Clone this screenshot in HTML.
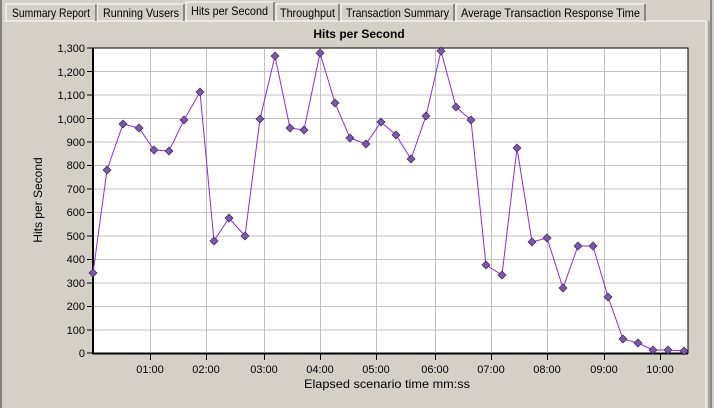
<!DOCTYPE html>
<html><head><style>
body{margin:0;width:714px;height:408px;background:#d4d0c8;font-family:"Liberation Sans",sans-serif;overflow:hidden;position:relative}
</style></head><body>
<svg width="714" height="408" xmlns="http://www.w3.org/2000/svg" style="position:absolute;left:0;top:0;font-family:'Liberation Sans',sans-serif">
<rect width="714" height="408" fill="#d4d0c8"/>
<line x1="1" y1="0" x2="1" y2="408" stroke="#808080" stroke-width="2"/>
<line x1="4" y1="21" x2="706" y2="21" stroke="#fff"/>
<line x1="706" y1="21" x2="706" y2="408" stroke="#fff"/>
<line x1="709" y1="21" x2="709" y2="408" stroke="#808080"/>
<line x1="711" y1="0" x2="711" y2="408" stroke="#404040"/>
<g font-size="12" fill="#000">
<rect x="6" y="4" width="90" height="17" fill="#d4d0c8" stroke="#fff"/><line x1="96" y1="4" x2="96" y2="21" stroke="#404040"/>
<text x="12" y="17" textLength="78" lengthAdjust="spacingAndGlyphs">Summary Report</text>
<rect x="97" y="4" width="87" height="17" fill="#d4d0c8" stroke="#fff"/><line x1="184" y1="4" x2="184" y2="21" stroke="#404040"/>
<text x="103" y="17" textLength="76" lengthAdjust="spacingAndGlyphs">Running Vusers</text>
<path d="M186 21 V2 H274" fill="none" stroke="#fff"/><line x1="274" y1="2" x2="274" y2="21" stroke="#404040"/>
<text x="191" y="15" textLength="77" lengthAdjust="spacingAndGlyphs">Hits per Second</text>
<rect x="276" y="4" width="63" height="17" fill="#d4d0c8" stroke="#fff"/><line x1="339" y1="4" x2="339" y2="21" stroke="#404040"/>
<text x="280" y="17" textLength="55" lengthAdjust="spacingAndGlyphs">Throughput</text>
<rect x="341" y="4" width="113" height="17" fill="#d4d0c8" stroke="#fff"/><line x1="454" y1="4" x2="454" y2="21" stroke="#404040"/>
<text x="346" y="17" textLength="103" lengthAdjust="spacingAndGlyphs">Transaction Summary</text>
<rect x="456" y="4" width="189" height="17" fill="#d4d0c8" stroke="#fff"/><line x1="645" y1="4" x2="645" y2="21" stroke="#404040"/>
<text x="461" y="17" textLength="179" lengthAdjust="spacingAndGlyphs">Average Transaction Response Time</text>
</g>
<text x="359" y="38" font-size="12" font-weight="bold" text-anchor="middle">Hits per Second</text>
<rect x="93" y="48" width="595" height="305" fill="#fff" stroke="#000"/>
<g stroke="#c0c0c0" stroke-width="1">
<line x1="94" x2="687" y1="71.5" y2="71.5"/><line x1="94" x2="687" y1="95" y2="95"/><line x1="94" x2="687" y1="118.5" y2="118.5"/><line x1="94" x2="687" y1="142" y2="142"/><line x1="94" x2="687" y1="165.5" y2="165.5"/><line x1="94" x2="687" y1="189" y2="189"/><line x1="94" x2="687" y1="212.5" y2="212.5"/><line x1="94" x2="687" y1="236" y2="236"/><line x1="94" x2="687" y1="259.5" y2="259.5"/><line x1="94" x2="687" y1="283" y2="283"/><line x1="94" x2="687" y1="306.5" y2="306.5"/><line x1="94" x2="687" y1="330" y2="330"/>
<line y1="49" y2="352" x1="150.5" x2="150.5"/><line y1="49" y2="352" x1="206.5" x2="206.5"/><line y1="49" y2="352" x1="264.5" x2="264.5"/><line y1="49" y2="352" x1="320.5" x2="320.5"/><line y1="49" y2="352" x1="376.5" x2="376.5"/><line y1="49" y2="352" x1="435.5" x2="435.5"/><line y1="49" y2="352" x1="491.5" x2="491.5"/><line y1="49" y2="352" x1="547.5" x2="547.5"/><line y1="49" y2="352" x1="604.5" x2="604.5"/><line y1="49" y2="352" x1="660.5" x2="660.5"/>
</g>
<line x1="93" y1="48" x2="93" y2="354" stroke="#000" stroke-width="2"/>
<line x1="92" y1="353.5" x2="688" y2="353.5" stroke="#000" stroke-width="2"/>
<g font-size="11" text-anchor="end">
<text x="85" y="52">1,300</text><text x="85" y="76">1,200</text><text x="85" y="99">1,100</text><text x="85" y="123">1,000</text><text x="85" y="146">900</text><text x="85" y="169">800</text><text x="85" y="193">700</text><text x="85" y="216">600</text><text x="85" y="240">500</text><text x="85" y="263">400</text><text x="85" y="287">300</text><text x="85" y="310">200</text><text x="85" y="334">100</text><text x="85" y="357">0</text>
</g>
<g stroke="#000"><line x1="87" x2="93" y1="48" y2="48"/><line x1="87" x2="93" y1="71.5" y2="71.5"/><line x1="87" x2="93" y1="95" y2="95"/><line x1="87" x2="93" y1="118.5" y2="118.5"/><line x1="87" x2="93" y1="142" y2="142"/><line x1="87" x2="93" y1="165.5" y2="165.5"/><line x1="87" x2="93" y1="189" y2="189"/><line x1="87" x2="93" y1="212.5" y2="212.5"/><line x1="87" x2="93" y1="236" y2="236"/><line x1="87" x2="93" y1="259.5" y2="259.5"/><line x1="87" x2="93" y1="283" y2="283"/><line x1="87" x2="93" y1="306.5" y2="306.5"/><line x1="87" x2="93" y1="330" y2="330"/><line x1="87" x2="93" y1="353" y2="353"/>
<line x1="150.5" x2="150.5" y1="354" y2="360"/><line x1="206.5" x2="206.5" y1="354" y2="360"/><line x1="264.5" x2="264.5" y1="354" y2="360"/><line x1="320.5" x2="320.5" y1="354" y2="360"/><line x1="376.5" x2="376.5" y1="354" y2="360"/><line x1="435.5" x2="435.5" y1="354" y2="360"/><line x1="491.5" x2="491.5" y1="354" y2="360"/><line x1="547.5" x2="547.5" y1="354" y2="360"/><line x1="604.5" x2="604.5" y1="354" y2="360"/><line x1="660.5" x2="660.5" y1="354" y2="360"/></g>
<g font-size="11" text-anchor="middle">
<text x="150" y="373">01:00</text><text x="206" y="373">02:00</text><text x="264" y="373">03:00</text><text x="320" y="373">04:00</text><text x="376" y="373">05:00</text><text x="435" y="373">06:00</text><text x="491" y="373">07:00</text><text x="547" y="373">08:00</text><text x="604" y="373">09:00</text><text x="660" y="373">10:00</text>
</g>
<text x="387" y="388" font-size="12" text-anchor="middle" textLength="166" lengthAdjust="spacingAndGlyphs">Elapsed scenario time mm:ss</text>
<text transform="translate(42,200) rotate(-90)" font-size="12" text-anchor="middle">Hits per Second</text>
<polyline fill="none" stroke="#8a2be2" stroke-width="1" points="93,273 107,170 123,124 139,128 154,150 169,151 184,120 200,92 214,241 229,218 245,236 260,119 275,56 290,128 304,130 320,53 335,103 350,138 366,144 381,122 396,135 411,159 426,116 441,51 456,107 471,120 486,265 502,275 517,148 532,242 547,238 563,288 578,246 593,246 608,297 623,339 638,343 653,350 668,350 684,351"/>
<g fill="#7b5aa6" stroke="#3a2060" stroke-width="0.7">
<path d="M93,269l4,4l-4,4l-4,-4z"/><path d="M107,166l4,4l-4,4l-4,-4z"/><path d="M123,120l4,4l-4,4l-4,-4z"/><path d="M139,124l4,4l-4,4l-4,-4z"/><path d="M154,146l4,4l-4,4l-4,-4z"/><path d="M169,147l4,4l-4,4l-4,-4z"/><path d="M184,116l4,4l-4,4l-4,-4z"/><path d="M200,88l4,4l-4,4l-4,-4z"/><path d="M214,237l4,4l-4,4l-4,-4z"/><path d="M229,214l4,4l-4,4l-4,-4z"/><path d="M245,232l4,4l-4,4l-4,-4z"/><path d="M260,115l4,4l-4,4l-4,-4z"/><path d="M275,52l4,4l-4,4l-4,-4z"/><path d="M290,124l4,4l-4,4l-4,-4z"/><path d="M304,126l4,4l-4,4l-4,-4z"/><path d="M320,49l4,4l-4,4l-4,-4z"/><path d="M335,99l4,4l-4,4l-4,-4z"/><path d="M350,134l4,4l-4,4l-4,-4z"/><path d="M366,140l4,4l-4,4l-4,-4z"/><path d="M381,118l4,4l-4,4l-4,-4z"/><path d="M396,131l4,4l-4,4l-4,-4z"/><path d="M411,155l4,4l-4,4l-4,-4z"/><path d="M426,112l4,4l-4,4l-4,-4z"/><path d="M441,47l4,4l-4,4l-4,-4z"/><path d="M456,103l4,4l-4,4l-4,-4z"/><path d="M471,116l4,4l-4,4l-4,-4z"/><path d="M486,261l4,4l-4,4l-4,-4z"/><path d="M502,271l4,4l-4,4l-4,-4z"/><path d="M517,144l4,4l-4,4l-4,-4z"/><path d="M532,238l4,4l-4,4l-4,-4z"/><path d="M547,234l4,4l-4,4l-4,-4z"/><path d="M563,284l4,4l-4,4l-4,-4z"/><path d="M578,242l4,4l-4,4l-4,-4z"/><path d="M593,242l4,4l-4,4l-4,-4z"/><path d="M608,293l4,4l-4,4l-4,-4z"/><path d="M623,335l4,4l-4,4l-4,-4z"/><path d="M638,339l4,4l-4,4l-4,-4z"/><path d="M653,346l4,4l-4,4l-4,-4z"/><path d="M668,346l4,4l-4,4l-4,-4z"/><path d="M684,347l4,4l-4,4l-4,-4z"/>
</g>
</svg>
</body></html>
